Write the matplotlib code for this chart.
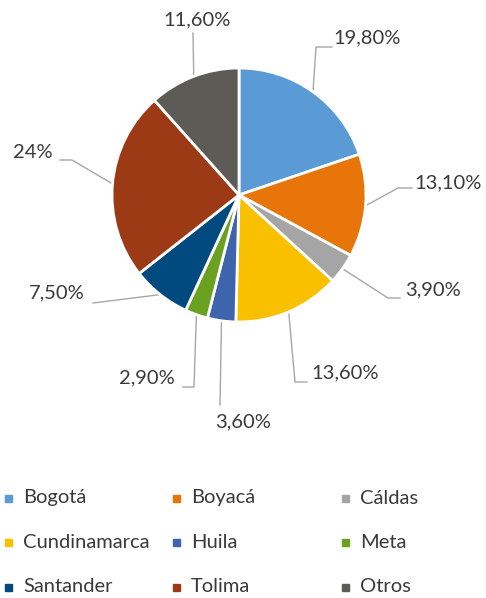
"""
Pie of participation by department, Excel-style labels and legend.
"""
import numpy as np
import matplotlib.pyplot as plt
from matplotlib.patches import Rectangle

departments = ["Bogotá", "Boyacá", "Cáldas", "Cundinamarca", "Huila",
               "Meta", "Santander", "Tolima", "Otros"]
shares = [19.8, 13.1, 3.9, 13.6, 3.6, 2.9, 7.5, 24.0, 11.6]
share_labels = ["19,80%", "13,10%", "3,90%", "13,60%", "3,60%",
                "2,90%", "7,50%", "24%", "11,60%"]
colors = ["#5B9BD5", "#E8750A", "#A5A5A5", "#F9C000", "#3D64AD",
          "#6AA121", "#004A80", "#9C3A16", "#5D5B56"]

W, H = 486, 598
cx, cy, R = 239, 195, 127  # pie center / radius in pixels (y from top)
text_color = "#3A3A3A"
font = "Lato"
fsize = 14.5

# label layout in pixel offsets from pie center (y up): text, elbow, end of leader
label_xy = [(128, 157), (209, 12), (194, -95), (106, -178), (4, -227),
            (-92, -183), (-182, -98), (-206, 42), (-42, 175)]
elbow_xy = [(77, 148), (159, 7), (149, -103), (56, -187), (-19, -210),
            (-45, -192), (-146, -108), (-167, 35), (-46, 162)]
end_xy = [(93, 148), (173, 7), (161, -103), (68, -187), (-19, -210),
          (-56, -192), (-146, -108), (-179, 35), (-46, 162)]

fig = plt.figure(figsize=(W / 100, H / 100), dpi=100)
ax = fig.add_axes([(cx - R) / W, 1 - (cy + R) / H, 2 * R / W, 2 * R / H])
wedges, _ = ax.pie(shares, colors=colors, startangle=90, counterclock=False,
                   radius=1, wedgeprops=dict(edgecolor="white", linewidth=2))
ax.set_xlim(-1, 1)
ax.set_ylim(-1, 1)
ax.set_aspect("equal")
ax.axis("off")

for w, lab, t, e, f in zip(wedges, share_labels, label_xy, elbow_xy, end_xy):
    ang = np.deg2rad((w.theta1 + w.theta2) / 2)
    xs = [np.cos(ang), e[0] / R, f[0] / R]
    ys = [np.sin(ang), e[1] / R, f[1] / R]
    ax.plot(xs, ys, color="#A6A6A6", lw=1, clip_on=False, zorder=0)
    ax.text(t[0] / R, t[1] / R, lab, ha="center", va="center",
            fontsize=fsize, family=font, color=text_color, clip_on=False)

# legend, three fixed-width columns like Excel
col_x = [8, 176, 345]
row_y = [498, 542, 587]
for i, (name, c) in enumerate(zip(departments, colors)):
    mx, my = col_x[i % 3], row_y[i // 3]
    fig.add_artist(Rectangle(((mx - 3.5) / W, 1 - (my + 3.5) / H), 7 / W, 7 / H,
                             transform=fig.transFigure, color=c))
    fig.text((mx + 15) / W, 1 - my / H, name, ha="left", va="center",
             fontsize=fsize, family=font, color=text_color)

fig.savefig("out.png", dpi=100)
